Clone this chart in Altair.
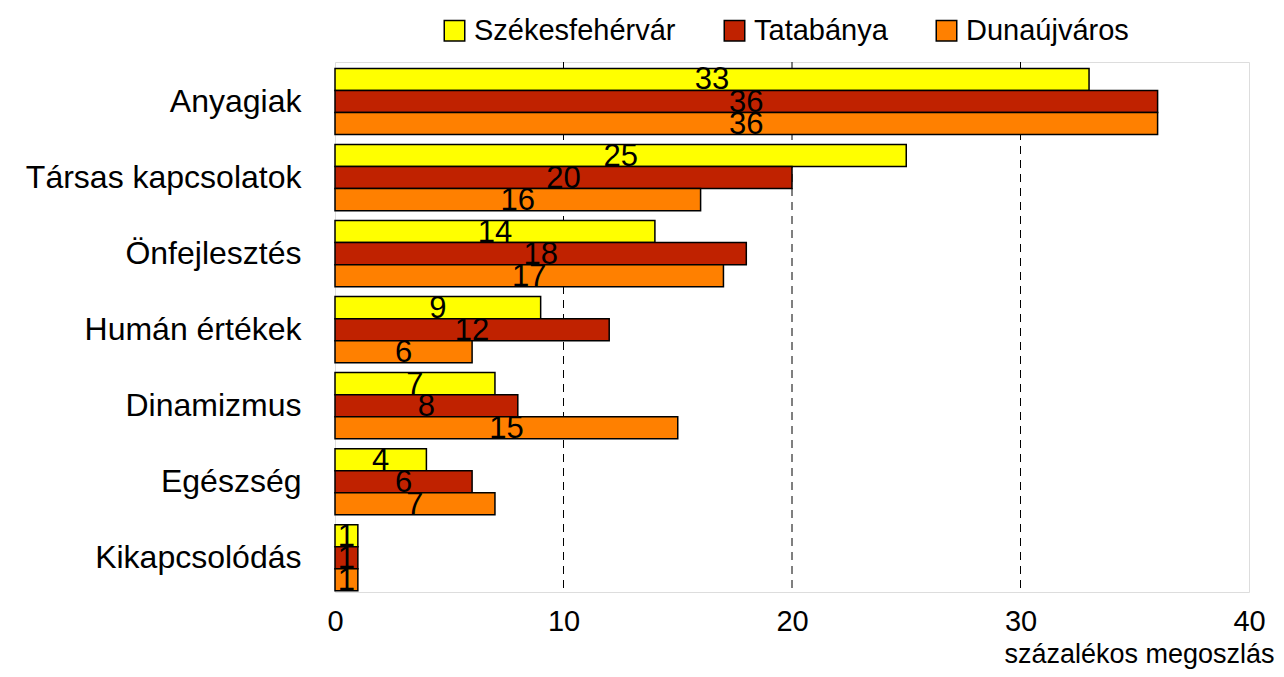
import altair as alt
import pandas as pd

categories = ["Anyagiak", "Társas kapcsolatok", "Önfejlesztés", "Humán értékek",
              "Dinamizmus", "Egészség", "Kikapcsolódás"]
cities = ["Székesfehérvár", "Tatabánya", "Dunaújváros"]
colors = ["#FFFF00", "#C02200", "#FF8000"]
szekesfehervar = [33, 25, 14, 9, 7, 4, 1]
tatabanya = [36, 20, 18, 12, 8, 6, 1]
dunaujvaros = [36, 16, 17, 6, 15, 7, 1]
grid_values = [10, 20, 30]
tick_values = [0, 10, 20, 30, 40]

rows = []
for city, vals in zip(cities, [szekesfehervar, tatabanya, dunaujvaros]):
    for cat, v in zip(categories, vals):
        rows.append({"cat": cat, "city": city, "val": v})
df = pd.DataFrame(rows)
grid_df = pd.DataFrame({"g": grid_values})

FONT = "Liberation Sans"

y_scale = alt.Scale(paddingInner=0.13, paddingOuter=0.05, align=0.85)
y_enc = alt.Y("cat:N", sort=categories, scale=y_scale,
              axis=alt.Axis(title=None, labelFontSize=32, labelPadding=34,
                            labelLimit=0, ticks=False, domain=False,
                            labelColor="black", labelFont=FONT))
yoff = alt.YOffset("city:N", sort=cities,
                   scale=alt.Scale(domain=cities, paddingInner=0, paddingOuter=0))
x_scale = alt.Scale(domain=[0, 40], nice=False)

grid = alt.Chart(grid_df).mark_rule(color="black", strokeDash=[8, 6], strokeWidth=1).encode(
    x=alt.X("g:Q", scale=x_scale)
)

bars = alt.Chart(df).mark_bar(stroke="black", strokeWidth=1.5).encode(
    y=y_enc,
    yOffset=yoff,
    x=alt.X("val:Q", scale=x_scale,
            axis=alt.Axis(values=tick_values, grid=False, ticks=False, domain=False,
                          labelFontSize=29, labelPadding=15, labelColor="black",
                          labelFont=FONT, labelFlush=False,
                          title="százalékos megoszlás", titleFontSize=27,
                          titleFontWeight="normal", titleFont=FONT,
                          titleAlign="right", titleBaseline="alphabetic",
                          titleX=939, titleY=70, titleColor="black")),
    color=alt.Color("city:N", sort=cities,
                    scale=alt.Scale(domain=cities, range=colors),
                    legend=alt.Legend(title=None, orient="none", legendX=105, legendY=-46,
                                      direction="horizontal", symbolType="square",
                                      symbolSize=420, symbolStrokeColor="black",
                                      symbolStrokeWidth=1.5, symbolOpacity=1,
                                      labelFontSize=29, labelFont=FONT, labelColor="black",
                                      labelLimit=0, labelOffset=5, columnPadding=44)),
)

labels = alt.Chart(df).transform_calculate(mid="datum.val / 2").mark_text(
    fontSize=31, font=FONT, color="black", baseline="middle", dy=1
).encode(
    y=alt.Y("cat:N", sort=categories),
    yOffset=alt.YOffset("city:N", sort=cities),
    x=alt.X("mid:Q", scale=x_scale),
    text=alt.Text("val:Q"),
)

chart = alt.layer(grid, bars, labels).properties(
    width=914, height=530,
    autosize=alt.AutoSizeParams(type="none"),
    padding={"left": 327, "top": 54, "right": 27, "bottom": 77},
).configure_view(stroke="black", strokeWidth=1.5).configure(font=FONT)

chart.save("out.html", embed_options={"renderer": "svg", "actions": False})
